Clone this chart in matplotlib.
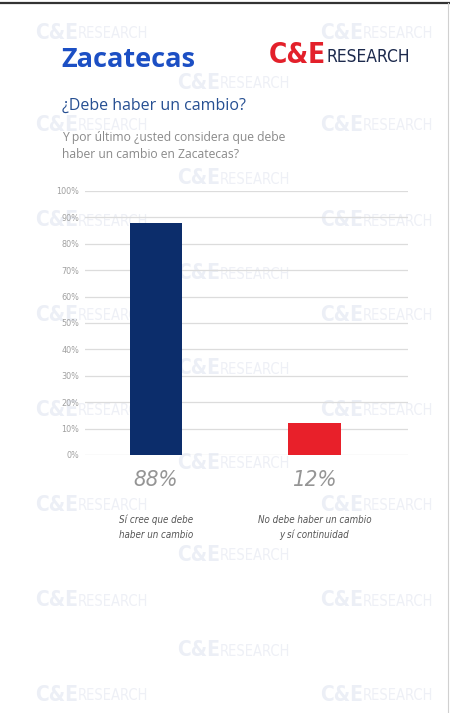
import matplotlib.pyplot as plt
from matplotlib.lines import Line2D

categories = ['Sí cree que debe\nhaber un cambio', 'No debe haber un cambio\ny sí continuidad']
values = [88, 12]
bar_colors = ['#0c2d6b', '#e8202a']
yticks = [0, 10, 20, 30, 40, 50, 60, 70, 80, 90, 100]

W, H = 450, 713
cond = dict(family='DejaVu Sans', fontstretch='condensed')

fig = plt.figure(figsize=(W / 100, H / 100), dpi=100)
fig.patch.set_facecolor('white')

def fx(px):
    return px / W

def fy(py):
    return 1 - py / H

def watermark(xx, yy):
    fig.text(fx(xx), fy(yy), 'C&E', fontsize=15, weight='bold', color='#eceff6',
             ha='right', va='center', zorder=-5, **cond)
    fig.text(fx(xx), fy(yy + 1), 'RESEARCH', fontsize=10.5, color='#eef0f6',
             ha='left', va='center', zorder=-5, **cond)

# faint watermark grid
wm_side = [33, 125, 220, 315, 410, 505, 600, 695]
wm_mid = [83, 178, 273, 368, 463, 555, 650]
for yy in wm_side:
    watermark(78, yy)
    watermark(363, yy)
for yy in wm_mid:
    watermark(220, yy)

# frame lines at top / right
fig.add_artist(Line2D([0, 1], [fy(3), fy(3)], color='#333333', lw=1.6))
fig.add_artist(Line2D([fx(448), fx(448)], [fy(3), 0], color='#d0d0d0', lw=0.8))

# header
fig.text(fx(61), fy(60), 'Zacatecas', fontsize=19.5, weight='bold', color='#1c4fc4',
         family=['Open Sans', 'DejaVu Sans'], ha='left', va='center')
fig.text(fx(326), fy(55), 'C&E', fontsize=20, weight='bold',
         color='#e3202a', ha='right', va='center', **cond)
fig.text(fx(327), fy(57), 'RESEARCH', fontsize=12.5,
         color='#1d2a4d', ha='left', va='center', **cond)

fig.text(fx(62), fy(106), '¿Debe haber un cambio?', fontsize=11.5, color='#264f92',
         family=['Open Sans', 'DejaVu Sans'], ha='left', va='center')
fig.text(fx(62), fy(146), 'Y por último ¿usted considera que debe\nhaber un cambio en Zacatecas?',
         fontsize=8.7, color='#8a8a8a', family=['Open Sans', 'DejaVu Sans'],
         ha='left', va='center', linespacing=1.35)

# chart
ax = fig.add_axes([fx(85), fy(455), fx(408) - fx(85), fy(191) - fy(455)])
ax.set_facecolor('none')
x = list(range(len(values)))
ax.bar(x, values, width=0.33, color=bar_colors, zorder=3)
ax.set_xlim(-0.448, 1.59)
ax.set_ylim(0, 100)
ax.set_yticks(yticks)
ax.set_yticklabels([f'{t}%' for t in yticks], fontsize=6.5, color='#a0a0a0', **cond)
ax.yaxis.grid(True, color='#dcdcdc', lw=0.9, zorder=0)
ax.set_xticks([])
ax.tick_params(axis='y', length=0, pad=4)
for s in ax.spines.values():
    s.set_visible(False)

for xi, v, lab in zip(x, values, categories):
    ax.annotate(f'{v}%', (xi, 0), xytext=(0, -18), textcoords='offset points',
                ha='center', va='center', fontsize=16, style='italic', weight='light',
                color='#959595', annotation_clip=False, **cond)
    ax.annotate(lab, (xi, 0), xytext=(0, -52), textcoords='offset points',
                ha='center', va='center', fontsize=7, style='italic',
                color='#555555', linespacing=1.55, annotation_clip=False, **cond)

fig.savefig('out.png', dpi=100, facecolor='white')
